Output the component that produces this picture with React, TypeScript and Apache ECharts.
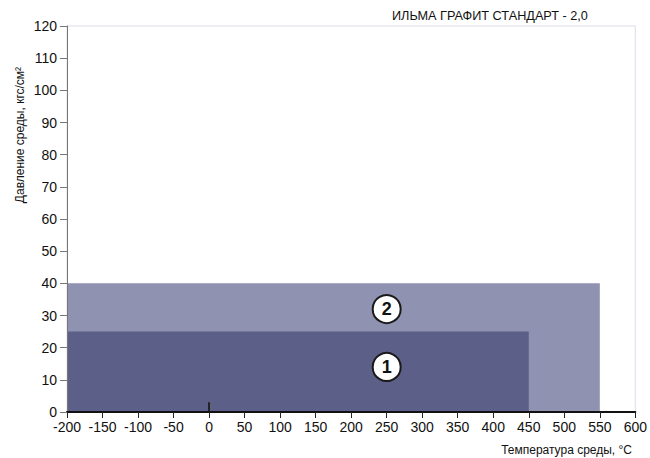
import React, { useEffect, useRef } from "react";
import * as echarts from "echarts";

const titleText = "ИЛЬМА ГРАФИТ СТАНДАРТ - 2,0";
const yName = "Давление среды, кгс/см²";
const xName = "Температура среды, °C";

// regions: [tempFrom, tempTo, pressureFrom, pressureTo]
const regionNames = ["2", "1"];
const regionTempFrom = [-200, -200];
const regionTempTo = [550, 450];
const regionPressFrom = [0, 0];
const regionPressTo = [40, 25];
const regionColors = ["#8f92b0", "#5c5f87"];

// marker circles
const markerLabels = ["1", "2"];
const markerTemp = [250, 250];
const markerPress = [14, 32];

export default function App() {
  const ref = useRef<HTMLDivElement>(null);
  useEffect(() => {
    if (!ref.current) return;
    const chart = echarts.init(ref.current, undefined, { renderer: "svg" });
    const regionData = regionNames.map((n, i) => ({
      name: n,
      value: [regionTempFrom[i], regionTempTo[i], regionPressFrom[i], regionPressTo[i]],
      itemStyle: { color: regionColors[i] },
    }));
    const font = "Liberation Sans, Arial, sans-serif";
    chart.setOption({
      animation: false,
      grid: {
        left: 67,
        right: 12,
        top: 26,
        bottom: 46,
        show: true,
        borderColor: "#dcdcee",
        borderWidth: 1,
      },
      xAxis: {
        type: "value",
        min: -200,
        max: 600,
        interval: 50,
        z: 6,
        axisLine: { show: true, onZero: false, lineStyle: { color: "#111", width: 2 } },
        axisTick: { show: true, length: 6, lineStyle: { color: "#222", width: 1 } },
        axisLabel: { color: "#111", fontSize: 14, fontFamily: font, margin: 8 },
        splitLine: { show: false },
      },
      yAxis: {
        type: "value",
        min: 0,
        max: 120,
        interval: 10,
        z: 6,
        axisLine: { show: true, onZero: false, lineStyle: { color: "#777", width: 1 } },
        axisTick: { show: true, length: 7, lineStyle: { color: "#777", width: 1 } },
        axisLabel: { color: "#111", fontSize: 14, fontFamily: font, margin: 10 },
        splitLine: { show: false },
      },
      graphic: [
        {
          type: "text",
          left: 392,
          top: 9,
          style: { text: titleText, fill: "#111", fontSize: 12.7, fontFamily: font },
        },
        {
          type: "text",
          x: 20,
          y: 135,
          rotation: Math.PI / 2,
          style: {
            text: yName,
            fill: "#111",
            fontSize: 12,
            fontFamily: font,
            align: "center",
            verticalAlign: "middle",
          },
        },
        {
          type: "text",
          x: 632,
          y: 456,
          style: {
            text: xName,
            fill: "#111",
            fontSize: 12,
            fontFamily: font,
            align: "right",
            verticalAlign: "bottom",
          },
        },
      ],
      series: [
        {
          type: "custom",
          data: regionData,
          renderItem: (params: any, api: any) => {
            const p0 = api.coord([api.value(0), api.value(3)]);
            const p1 = api.coord([api.value(1), api.value(2)]);
            return {
              type: "rect",
              shape: { x: p0[0], y: p0[1], width: p1[0] - p0[0], height: p1[1] - p0[1] },
              style: { fill: regionColors[params.dataIndex] },
            };
          },
          z: 1,
        },
        {
          type: "line",
          data: [],
          z: 7,
          markLine: {
            silent: true,
            symbol: "none",
            label: { show: false },
            lineStyle: { color: "#222", width: 2, type: "solid" },
            data: [[{ coord: [0, 0] }, { coord: [0, 3] }]],
          },
        },
        {
          type: "scatter",
          data: markerLabels.map((l, i) => ({ name: l, value: [markerTemp[i], markerPress[i]] })),
          symbol: "circle",
          symbolSize: 28,
          itemStyle: { color: "#ffffff", borderColor: "#1a1a1a", borderWidth: 2, opacity: 1 },
          label: {
            show: true,
            position: "inside",
            formatter: (p: any) => p.name,
            color: "#111",
            fontSize: 18,
            fontWeight: "bold",
            fontFamily: font,
          },
          z: 8,
        },
      ],
    });
    return () => chart.dispose();
  }, []);
  return (
    <div
      ref={ref}
      style={{ position: "absolute", left: 0, top: 0, width: 650, height: 458 }}
    />
  );
}
